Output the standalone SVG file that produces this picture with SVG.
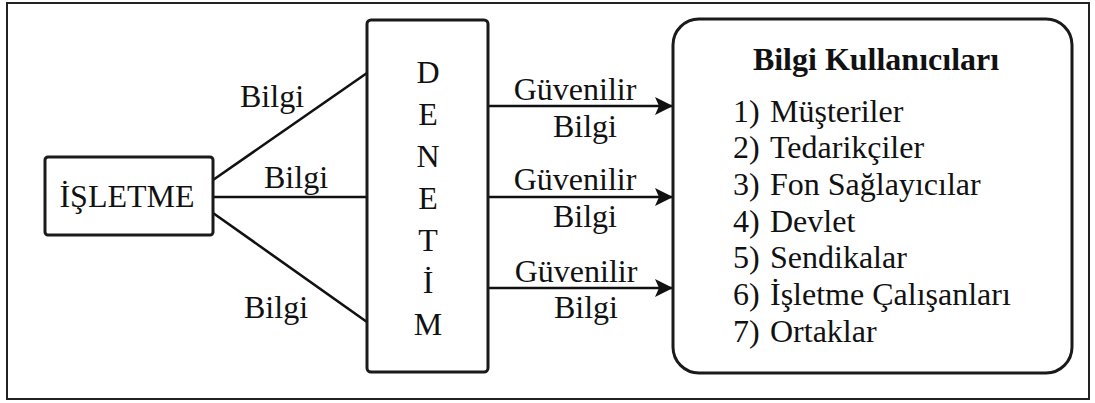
<svg xmlns="http://www.w3.org/2000/svg" width="1095" height="403" viewBox="0 0 1095 403" font-family="'Liberation Serif', 'Times New Roman', serif">
  <style>
    text { font-family: "Liberation Serif", "Times New Roman", serif; font-size: 32px; fill: #111; }
    .mid { text-anchor: middle; }
    .title { font-weight: bold; }
    .box { fill: #fff; stroke: #1a1a1a; stroke-width: 3; }
    .link { stroke: #111; stroke-width: 2.6; fill: none; }
  </style>
  <defs>
    <marker id="arrow" viewBox="0 0 18 18" refX="17" refY="9" markerWidth="18" markerHeight="18" markerUnits="userSpaceOnUse" orient="auto">
      <path d="M0,0 L18,9 L0,18 L4,9 Z" fill="#111"/>
    </marker>
  </defs>

  <!-- outer frame -->
  <rect x="7" y="3" width="1082" height="396" fill="#fff" stroke="#222" stroke-width="2"/>

  <!-- connectors -->
  <g id="connectors">
    <line class="link" x1="213" y1="180" x2="367" y2="73"/>
    <line class="link" x1="213" y1="197" x2="367" y2="197"/>
    <line class="link" x1="213" y1="213" x2="367" y2="322"/>
    <line class="link" x1="488" y1="106" x2="672" y2="106" marker-end="url(#arrow)"/>
    <line class="link" x1="488" y1="197" x2="672" y2="197" marker-end="url(#arrow)"/>
    <line class="link" x1="488" y1="288" x2="672" y2="288" marker-end="url(#arrow)"/>
    <text x="240" y="107">Bilgi</text>
    <text x="264" y="188">Bilgi</text>
    <text x="244" y="318">Bilgi</text>
    <text class="mid" x="575" y="100">Güvenilir</text>
    <text class="mid" x="585" y="137">Bilgi</text>
    <text class="mid" x="575" y="190">Güvenilir</text>
    <text class="mid" x="585" y="227">Bilgi</text>
    <text class="mid" x="576" y="282">Güvenilir</text>
    <text class="mid" x="586" y="318">Bilgi</text>
  </g>

  <!-- source node -->
  <g id="isletme">
    <rect class="box" x="45" y="157" width="168" height="78" rx="3"/>
    <text class="mid" x="127" y="207">İŞLETME</text>
  </g>

  <!-- audit node, vertical letters -->
  <g id="denetim">
    <rect class="box" x="367" y="20" width="121" height="352" rx="4"/>
    <text class="mid" x="428" y="83">D</text>
    <text class="mid" x="428" y="125">E</text>
    <text class="mid" x="428" y="167">N</text>
    <text class="mid" x="428" y="209">E</text>
    <text class="mid" x="428" y="251">T</text>
    <text class="mid" x="428" y="293">İ</text>
    <text class="mid" x="428" y="335">M</text>
  </g>

  <!-- information users -->
  <g id="bilgi-kullanicilari">
    <rect class="box" x="673" y="19" width="399" height="354" rx="26"/>
    <text class="mid title" x="876" y="70">Bilgi Kullanıcıları</text>
    <text x="733" y="122">1)<tspan x="770">Müşteriler</tspan></text>
    <text x="733" y="158">2)<tspan x="770">Tedarikçiler</tspan></text>
    <text x="733" y="195">3)<tspan x="770">Fon Sağlayıcılar</tspan></text>
    <text x="733" y="232">4)<tspan x="770">Devlet</tspan></text>
    <text x="733" y="268">5)<tspan x="770">Sendikalar</tspan></text>
    <text x="733" y="305">6)<tspan x="770">İşletme Çalışanları</tspan></text>
    <text x="733" y="342">7)<tspan x="770">Ortaklar</tspan></text>
  </g>
</svg>
